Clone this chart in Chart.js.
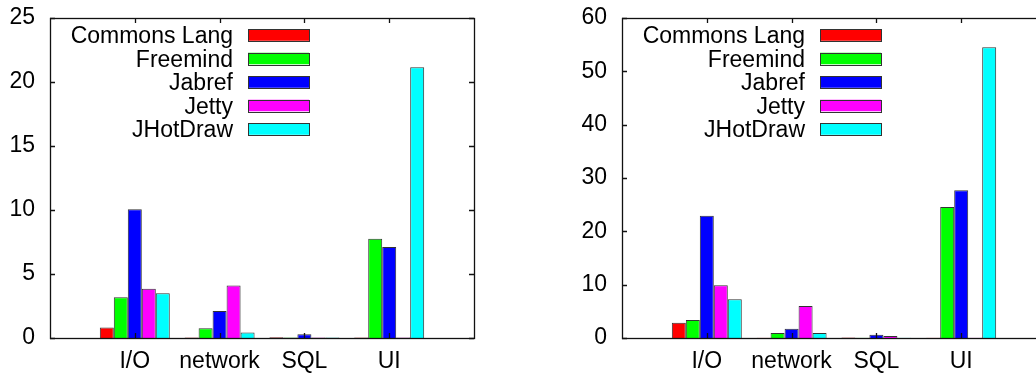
<!DOCTYPE html>
<html>
<head>
<meta charset="utf-8">
<script src="https://cdn.jsdelivr.net/npm/chart.js@4/dist/chart.umd.min.js"></script>
<style>
  html, body { margin: 0; padding: 0; background: #fff; overflow: hidden; width: 1036px; height: 376px; }
  #wrap { position: relative; width: 1036px; height: 376px; overflow: hidden; }
  canvas { position: absolute; top: 0; }
  #c1 { left: 0px; }
  #c2 { left: 572px; }
</style>
</head>
<body>
<div id="wrap">
  <canvas id="c1" width="500" height="376"></canvas>
  <canvas id="c2" width="500" height="376"></canvas>
</div>
<script>
// ---- data ----
const categories = ['I/O', 'network', 'SQL', 'UI'];
const seriesNames = ['Commons Lang', 'Freemind', 'Jabref', 'Jetty', 'JHotDraw'];
const seriesColors = ['#ff0000', '#00ff00', '#0000ff', '#ff00ff', '#00ffff'];

// left chart values
const leftCommonsLang = [0.83, 0.03, 0.05, 0.03];
const leftFreemind    = [3.18, 0.76, 0.03, 7.76];
const leftJabref      = [10.05, 2.11, 0.30, 7.11];
const leftJetty       = [3.85, 4.11, 0.03, 0.03];
const leftJHotDraw    = [3.49, 0.42, 0.03, 21.15];
const leftYMax = 25, leftYStep = 5;

// right chart values
const rightCommonsLang = [2.88, 0.05, 0.10, 0.05];
const rightFreemind    = [3.38, 0.94, 0.05, 24.56];
const rightJabref      = [22.9, 1.75, 0.63, 27.7];
const rightJetty       = [9.88, 6.0, 0.38, 0.05];
const rightJHotDraw    = [7.25, 0.94, 0.05, 54.5];
const rightYMax = 60, rightYStep = 10;

// ---- setup ----
Chart.defaults.font.family = '"Liberation Sans", Arial, Helvetica, sans-serif';
Chart.defaults.font.size = 23;
Chart.defaults.color = '#000';

// x range padded with an empty slot on each side (-1 .. 4)
const xLabels = [''].concat(categories).concat(['']);
function pad(arr) { return [null].concat(arr).concat([null]); }

const framePlugin = {
  id: 'frame',
  afterDatasetsDraw(chart) {
    const ctx = chart.ctx, a = chart.chartArea;
    const ys = chart.scales.y, xs = chart.scales.x;
    ctx.save();
    ctx.strokeStyle = '#111';
    ctx.lineWidth = 1.3;
    ctx.beginPath();
    const tl = 5;
    ys.ticks.forEach(t => {
      const py = Math.round(ys.getPixelForValue(t.value)) + 0.5;
      ctx.moveTo(a.left, py); ctx.lineTo(a.left + tl, py);
      ctx.moveTo(a.right, py); ctx.lineTo(a.right - tl, py);
    });
    for (let i = 1; i <= categories.length; i++) {
      const px = Math.round(xs.getPixelForValue(i)) + 0.5;
      ctx.moveTo(px, a.top); ctx.lineTo(px, a.top + tl);
      ctx.moveTo(px, a.bottom); ctx.lineTo(px, a.bottom - tl);
    }
    ctx.stroke();
    ctx.strokeRect(Math.round(a.left) + 0.5, Math.round(a.top) + 0.5,
                   Math.round(a.right - a.left), Math.round(a.bottom - a.top));
    ctx.restore();
  }
};

const keyPlugin = {
  id: 'gkey',
  afterDraw(chart) {
    const ctx = chart.ctx, a = chart.chartArea;
    ctx.save();
    ctx.font = '23px "Liberation Sans", Arial, Helvetica, sans-serif';
    ctx.textAlign = 'right';
    ctx.textBaseline = 'alphabetic';
    chart.data.datasets.forEach((ds, i) => {
      const cy = 35 + i * 23.5;
      ctx.fillStyle = '#000';
      ctx.fillText(ds.label, a.left + 183, cy + 8.2);
      const bx = a.left + 198, bw = 61, bh = 11.5;
      ctx.fillStyle = ds.backgroundColor;
      ctx.fillRect(bx, cy - bh / 2, bw, bh);
      ctx.strokeStyle = '#333';
      ctx.lineWidth = 1;
      ctx.strokeRect(bx + 0.5, Math.round(cy - bh / 2) + 0.5, bw, Math.round(bh));
    });
    ctx.restore();
  }
};

function makeChart(id, series, yMax, yStep) {
  const datasets = series.map((vals, i) => ({
    label: seriesNames[i],
    data: pad(vals),
    backgroundColor: seriesColors[i],
    borderColor: '#333',
    borderWidth: 1,
    barPercentage: 1.0,
    categoryPercentage: 0.825
  }));
  return new Chart(document.getElementById(id), {
    type: 'bar',
    data: { labels: xLabels, datasets },
    options: {
      responsive: false,
      animation: false,
      devicePixelRatio: 1,
      layout: { padding: { top: 18, right: 26, left: 0, bottom: 0 } },
      plugins: { legend: { display: false }, tooltip: { enabled: false } },
      scales: {
        x: {
          type: 'category',
          offset: false,
          grid: { display: false, drawTicks: false },
          border: { display: false },
          ticks: { padding: 10, maxRotation: 0, autoSkip: false },
          afterFit(s) { s.height = 38; s.paddingLeft = 0; s.paddingRight = 0; }
        },
        y: {
          min: 0, max: yMax,
          grid: { display: false, drawTicks: false },
          border: { display: false },
          ticks: { stepSize: yStep, padding: 15 },
          afterFit(s) { s.width = 50; s.paddingTop = 0; s.paddingBottom = 0; }
        }
      }
    },
    plugins: [framePlugin, keyPlugin]
  });
}

makeChart('c1', [leftCommonsLang, leftFreemind, leftJabref, leftJetty, leftJHotDraw], leftYMax, leftYStep);
makeChart('c2', [rightCommonsLang, rightFreemind, rightJabref, rightJetty, rightJHotDraw], rightYMax, rightYStep);
</script>
</body>
</html>
